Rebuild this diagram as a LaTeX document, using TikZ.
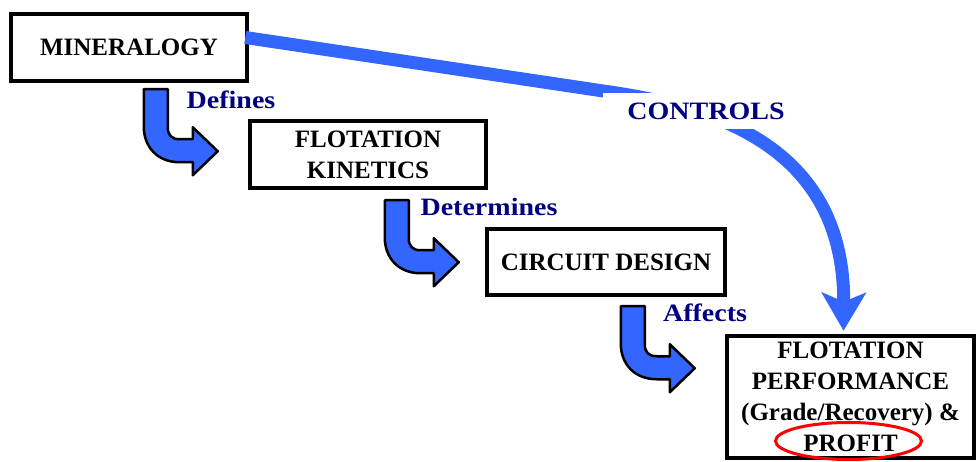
\documentclass[tikz,border=0pt]{standalone}
\usepackage{fontspec}
\setmainfont{Liberation Serif}
\newfontfamily\verbfont[FakeStretch=1.12]{Liberation Serif}
\usepackage{xcolor}
\usepackage{tikz}
\usetikzlibrary{arrows.meta, positioning, calc}

\definecolor{arrowblue}{RGB}{51,102,255}
\definecolor{labelnavy}{RGB}{0,0,128}

\begin{document}
\begin{tikzpicture}[
      x=1pt, y=-1pt,
      every node/.style={font=\fontsize{25}{31}\selectfont\bfseries, align=center},
      stage/.style={draw, line width=4.5pt, inner sep=0pt},
      verb/.style={text=labelnavy, inner sep=0pt, font=\fontsize{25}{31}\verbfont\bfseries},
      ctrlline/.style={draw=arrowblue, line width=13pt,
        -{Stealth[length=38pt, width=44pt, inset=9pt]}},
      bend/.pic={
        \filldraw[fill=arrowblue, draw=black, line width=2.5pt, line join=round]
          (0,0) -- (24,0) -- (24,38) .. controls (24,46) and (28,50) .. (36,50)
          -- (49,50) -- (49,38) -- (74,62) -- (49,86) -- (49,73) -- (36,73)
          .. controls (14,73) and (0,58) .. (0,37) -- cycle;
      }
    ]
      \useasboundingbox (0,0) rectangle (980,462);

      \node[stage, minimum width=236pt, minimum height=67pt] (mineral) at (129,47.5) {MINERALOGY};
      \node[stage, minimum width=236pt, minimum height=67pt] (kinetics) at (368,154.5) {FLOTATION\\KINETICS};
      \node[stage, minimum width=238pt, minimum height=66pt] (circuit) at (606,262) {CIRCUIT DESIGN};
      \node[stage, minimum width=247pt, minimum height=122pt] (perf) at (850.5,397)
        {FLOTATION\\PERFORMANCE\\(Grade/Recovery) \&\\PROFIT};
      \draw[red, line width=3pt] ($(perf.center)+(-2,44)$) ellipse [x radius=73, y radius=18.5];

      % stepwise links
      \pic at ($(mineral.south west)+(135,6)$) {bend};
      \pic at ($(kinetics.south west)+(137,10)$) {bend};
      \pic at ($(circuit.south west)+(136,9)$) {bend};
      \node[verb] (defines) at (231,100) {Defines};
      \node[verb] (determines) at (489,207) {Determines};
      \node[verb] (affects) at (705,313) {Affects};

      % long link
      \coordinate (bendpt) at (610,92);
      \draw[ctrlline] ($(mineral.east)+(-4,-10)$) -- (bendpt)
        .. controls (720,108) and (845,150) .. ($(perf.north)+(-7,-3)$);
      \node[verb, fill=white, inner xsep=24pt, inner ysep=10pt] (controls) at (706,111) {CONTROLS};
    \end{tikzpicture}
\end{document}
